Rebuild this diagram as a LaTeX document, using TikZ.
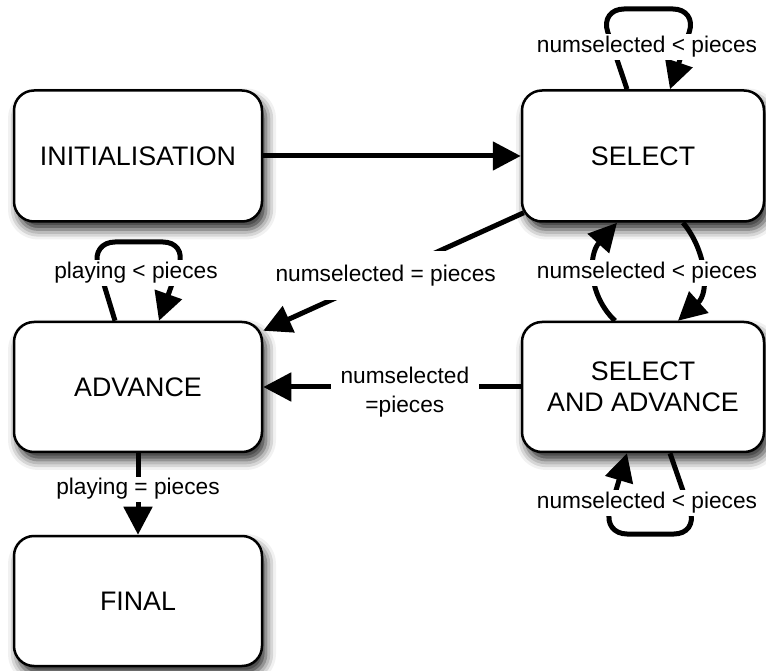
\documentclass[tikz,border=0pt]{standalone}
\usepackage{fontspec}
\setmainfont{Liberation Sans}
\usetikzlibrary{arrows.meta,shadows.blur}
\begin{document}
\begin{tikzpicture}[x=1pt,y=1pt,
  state/.style={draw=black, line width=2.5pt, fill=white, rounded corners=20pt,
    minimum height=130pt, align=center, font=\fontsize{26.8}{31}\selectfont,
    blur shadow={shadow xshift=4pt,shadow yshift=-8pt,shadow blur radius=10pt,shadow opacity=85}},
  conn/.style={line width=5pt, -{Triangle[length=28pt,width=28pt]}},
  lbl/.style={fill=white, font=\fontsize{22.7}{29}\selectfont, inner xsep=2pt, inner ysep=2pt, align=center},
  loop/.style={conn, rounded corners=24pt},
]
\useasboundingbox (0,0) rectangle (766,670);

\node[state, minimum width=248pt, minimum height=131pt] (init) at (138,514) {INITIALISATION};
\node[state, minimum width=242pt, minimum height=131pt] (select) at (643,514) {SELECT};
\node[state, minimum width=248pt] (advance) at (138,283) {ADVANCE};
\node[state, minimum width=242pt] (sa) at (643,283) {SELECT\\AND ADVANCE};
\node[state, minimum width=248pt] (final) at (138,69) {FINAL};

% connectors
\draw[conn] (init.east) -- (select.west);
\draw[conn] ([xshift=40pt]select.south) .. controls (706,420) and (710,378) .. ([xshift=35pt]sa.north);
\draw[conn] ([xshift=-28pt]sa.north) .. controls (588,375) and (588,415) .. ([xshift=-26pt]select.south);
\draw[loop] ([xshift=-16pt]select.north) -- (600,661) -- (697,661) -- ([xshift=27pt]select.north);
\draw[loop] ([xshift=-23pt]advance.north) -- (91,428) -- (187,428) -- ([xshift=21pt]advance.north);
\draw[loop] ([xshift=27pt]sa.south) -- (698,136) -- (603,136) -- ([xshift=-16pt]sa.south);
\draw[conn] ([xshift=3pt,yshift=10pt]select.south west) -- node[lbl, pos=0.53, inner ysep=14pt] (l2) {numselected = pieces} ([yshift=-10pt]advance.north east);
\draw[conn] (sa.west) -- node[lbl, pos=0.45, yshift=-5pt, inner xsep=10pt] (l5) {numselected\\=pieces} (advance.east);
\draw[conn] (advance.south) -- node[lbl, pos=0.44] (l7) {playing = pieces} (final.north);

% loop labels
\node[lbl] (l1) at (647,623) {numselected < pieces};
\node[lbl] (l3) at (647,397) {numselected < pieces};
\node[lbl] (l4) at (136,397) {playing < pieces};
\node[lbl] (l6) at (647,167) {numselected < pieces};
\end{tikzpicture}
\end{document}
